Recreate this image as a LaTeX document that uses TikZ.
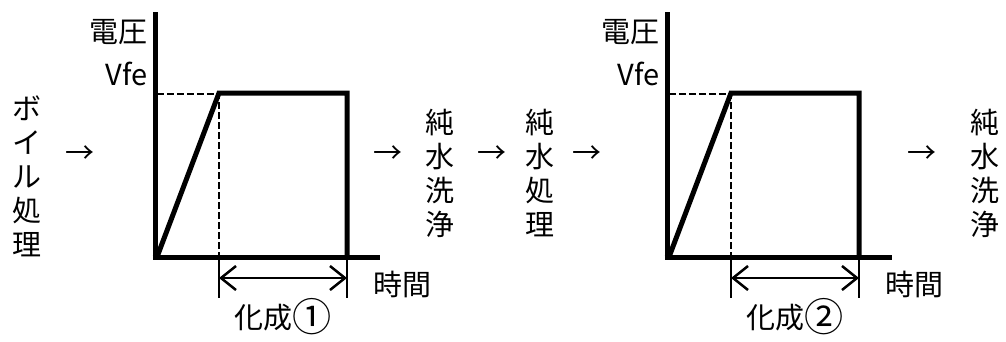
\documentclass[tikz,border=0pt]{standalone}
\usepackage{fontspec}
\setmainfont{Noto Sans CJK JP}
\usetikzlibrary{arrows.meta}
\newcommand{\circnum}[1]{\raisebox{-0.12em}{\scalebox{1.35}{#1}}}
\tikzset{
  lbl/.style={inner sep=0pt, font=\fontsize{29}{34}\selectfont},
  vtext/.style={lbl, align=center},
  axisline/.style={line width=5pt},
  curve/.style={line width=5pt, line join=miter},
  guide/.style={line width=2pt, dash pattern=on 7pt off 3pt},
  tick/.style={line width=2.5pt},
  dim/.style={line width=2.5pt, {Straight Barb[length=15pt,width=24pt]}-{Straight Barb[length=15pt,width=24pt]}}
}
\begin{document}
\begin{tikzpicture}[x=1pt,y=-1pt]
\useasboundingbox (0,0) rectangle (1006,341);

\node[vtext] (boil) at (27,176) {ボ\\イ\\ル\\処\\理};
\node[lbl] (ar1) at (80,155) {→};

\foreach \ox/\n/\lab in {0/a/化成\circnum{①}, 512/b/化成\circnum{②}} {
  \begin{scope}[xshift=\ox]
    \coordinate (\n-top) at (155,12);
    \coordinate (\n-bot) at (155,259.5);
    \coordinate (\n-xl) at (152.5,257);
    \coordinate (\n-xr) at (380,257);
    \coordinate (\n-o) at (157,257);
    \coordinate (\n-pk) at (219,93);
    \coordinate (\n-pr) at (347,93);
    \coordinate (\n-br) at (347,257);
    \coordinate (\n-dl) at (157,94);
    \coordinate (\n-dt) at (219,94);
    \coordinate (\n-db) at (219,255);
    \coordinate (\n-t1a) at (219,259);
    \coordinate (\n-t1b) at (219,298);
    \coordinate (\n-t2a) at (347,259);
    \coordinate (\n-t2b) at (347,298);
    \coordinate (\n-m1) at (219,278);
    \coordinate (\n-m2) at (347,278);
    \draw[axisline] (\n-top) -- (\n-bot);
    \draw[axisline] (\n-xl) -- (\n-xr);
    \draw[guide] (\n-dl) -- (\n-dt) -- (\n-db);
    \draw[curve] (\n-o) -- (\n-pk) -- (\n-pr) -- (\n-br);
    \draw[tick] (\n-t1a) -- (\n-t1b);
    \draw[tick] (\n-t2a) -- (\n-t2b);
    \draw[dim] (\n-m1) -- (\n-m2);
    \node[lbl, anchor=east] (\n-volt) at (148,32) {電圧};
    \node[lbl, anchor=east] (\n-vfe) at (148,74) {Vfe};
    \node[lbl] (\n-time) at (402,284) {時間};
    \node[lbl] (\n-form) at (283,317) {\lab};
  \end{scope}
}

\node[lbl] (ar2) at (388,155) {→};
\node[vtext] (wash1) at (440,173) {純\\水\\洗\\浄};
\node[lbl] (ar3) at (492,155) {→};
\node[vtext] (treat) at (540,173) {純\\水\\処\\理};
\node[lbl] (ar4) at (587,155) {→};
\node[lbl] (ar5) at (922,155) {→};
\node[vtext] (wash2) at (985,173) {純\\水\\洗\\浄};
\end{tikzpicture}
\end{document}
